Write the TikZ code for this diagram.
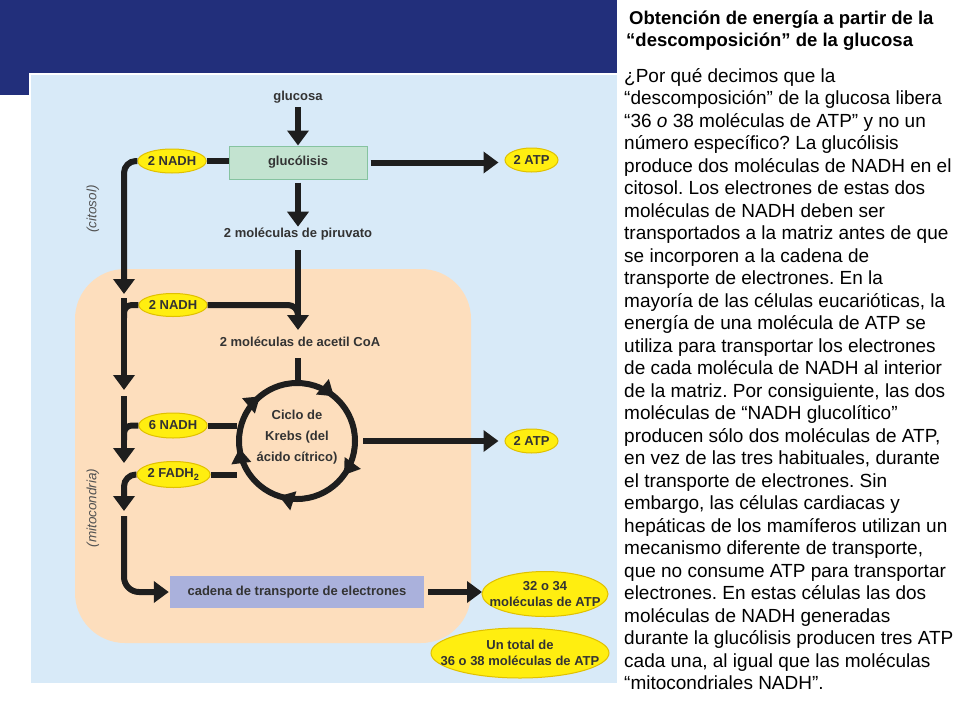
\documentclass[tikz,border=0pt]{standalone}
\usepackage{fontspec}
\setmainfont{Liberation Sans}
\usetikzlibrary{arrows.meta,shapes.geometric,decorations.markings}
\definecolor{navy}{HTML}{222F7B}
\definecolor{diagbg}{HTML}{D8EAF8}
\definecolor{peach}{HTML}{FDDEBD}
\definecolor{nadhfill}{HTML}{FFEE10}
\definecolor{nadhdraw}{HTML}{E0C000}
\definecolor{glucfill}{HTML}{C3E3D0}
\definecolor{glucdraw}{HTML}{86C3A0}
\definecolor{cadfill}{HTML}{AAB1DC}
\definecolor{ink}{HTML}{1E1E1E}
\definecolor{lbl}{HTML}{333333}
\frenchspacing
\newcommand{\cycarrow}{\arrow{Triangle[width=19pt,length=15pt]}}
\begin{document}
\begin{tikzpicture}[x=1pt,y=-1pt,
  flow/.style={draw=ink, line width=6pt},
  arr/.style={flow, -{Triangle[width=21pt,length=15pt]}},
  lab/.style={font=\fontsize{13}{15}\selectfont\bfseries, text=lbl, inner sep=1pt},
  oval/.style={ellipse, fill=nadhfill, draw=nadhdraw, line width=1pt, inner sep=0pt,
    font=\fontsize{13}{16}\selectfont\bfseries, text=lbl, align=center},
  side/.style={font=\fontsize{13.5}{15}\selectfont\itshape, text=lbl!85, rotate=90, inner sep=0pt},
  body/.style={anchor=base west, inner sep=0pt, font=\fontsize{19}{22.5}\selectfont, text=black},
  ttl/.style={anchor=base west, inner sep=0pt, font=\fontsize{18.5}{22}\selectfont\bfseries, text=black},
]
\useasboundingbox (0,0) rectangle (960,720);
\fill[white] (0,0) rectangle (960,720);
\fill[navy] (0,0) rectangle (617,73);
\fill[navy] (0,0) rectangle (29,95);
\fill[diagbg] (31,75) rectangle (617,683);
\fill[peach, rounded corners=50] (75,269) rectangle (471,643);

% nodes
\node[lab] (glucosa) at (298,97) {glucosa};
\node[lab, fill=glucfill, draw=glucdraw, line width=1pt, minimum width=138, minimum height=33] (gluc) at (298,162.5) {glucólisis};
\node[lab] (piru) at (298,234) {2 moléculas de piruvato};
\node[lab] (acet) at (300,342) {2 moléculas de acetil CoA};
\node[oval, minimum width=68, minimum height=24] (nadhA) at (172,161) {2 NADH};
\node[oval, minimum width=53, minimum height=24] (atpA) at (531.5,160) {2 ATP};
\node[oval, minimum width=68, minimum height=23] (nadhB) at (173,305) {2 NADH};
\node[oval, minimum width=68, minimum height=25] (nadhC) at (173,425.5) {6 NADH};
\node[oval, minimum width=73, minimum height=26] (fadh) at (173.5,474.5) {2 FADH\textsubscript{2}};
\node[oval, minimum width=53, minimum height=24] (atpB) at (531.5,441) {2 ATP};
\node[lab, fill=cadfill, minimum width=254, minimum height=32] (cad) at (297,592) {cadena de transporte de electrones};
\node[oval, inner xsep=-30pt, minimum width=126, minimum height=45] (atpC) at (545,594) {32 o 34\\moléculas de ATP};
\node[oval, inner xsep=-30pt, minimum width=178, minimum height=50] (atpT) at (520,653) {Un total de\\36 o 38 moléculas de ATP};
\node[lab, align=center, font=\fontsize{13}{21}\selectfont\bfseries] (krebs) at (297,437) {Ciclo de\\Krebs (del\\ácido cítrico)};
\node[side] (cit) at (93,209) {(citosol)};
\node[side] (mito) at (93,508) {(mitocondria)};

\coordinate (kc) at (297,441);
\coordinate (mainA) at (298,107);
\coordinate (mainB) at (298,250);
\coordinate (mainTip) at (298,330);
\coordinate (mainJoin) at (298,322);
\coordinate (acetTop) at (298,358);
\coordinate (kTop) at (298,384);
\coordinate (tip1) at (124,294);
\coordinate (s2) at (124,298);
\coordinate (tip2) at (124,390);
\coordinate (j2) at (124,318);
\coordinate (s3) at (124,396);
\coordinate (tip3) at (124,463);
\coordinate (j3) at (124,440);
\coordinate (tip4) at (124,511);
\coordinate (s5) at (124,516);
\coordinate (kL1) at (237,425.5);
\coordinate (kL2) at (237,474.5);
\coordinate (kR) at (363,441);
\coordinate (cadTip) at (482,592);

% circle
\draw[flow, postaction={decorate}, decoration={markings,
  mark=at position 0.11 with {\cycarrow},
  mark=at position 0.35 with {\cycarrow},
  mark=at position 0.55 with {\cycarrow},
  mark=at position 0.73 with {\cycarrow},
  mark=at position 0.89 with {\cycarrow}}]
  (kc) ++(0,-58) arc[start angle=-90, end angle=270, radius=58];

% connectors
\draw[arr] (mainA) -- (gluc.north);
\draw[arr, shorten <=3pt] (gluc.south) -- (piru.north);
\draw[arr] (mainB) -- (mainTip);
\draw[flow] (acetTop) -- (kTop);
\draw[flow] (nadhA.east) -- (nadhA.east -| gluc.west);
\draw[arr, shorten <=3pt, shorten >=6pt] (gluc.east) -- (gluc.east -| atpA.west);
\draw[arr, rounded corners=12] (nadhA.west) -| (tip1);
\draw[flow, rounded corners=10] (nadhB.east) -| (mainJoin);
\draw[arr] (s2) -- (tip2);
\draw[flow, rounded corners=8] (nadhB.west) -| (j2);
\draw[arr] (s3) -- (tip3);
\draw[flow, rounded corners=8] (nadhC.west) -| (j3);
\draw[flow] (nadhC.east) -- (kL1);
\draw[flow] (fadh.east) -- (kL2);
\draw[arr, rounded corners=12] (fadh.west) -| (tip4);
\draw[arr, rounded corners=15, shorten >=1pt] (s5) |- (cad.west);
\draw[arr, shorten >=6pt] (kR) -- (atpB.west);
\draw[arr, shorten <=4pt] (cad.east) -- (cadTip);

% right column text
\node[ttl] (t1) at (629,24) {Obtención de energía a partir de la};
\node[ttl] (t2) at (626,46) {“descomposición” de la glucosa};
\foreach \t [count=\i] in {
 {¿Por qué decimos que la},
 {“descomposición” de la glucosa libera},
 {“36 \textit{o} 38 moléculas de ATP” y no un},
 {número específico? La glucólisis},
 {produce dos moléculas de NADH en el},
 {citosol. Los electrones de estas dos},
 {moléculas de NADH deben ser},
 {transportados a la matriz antes de que},
 {se incorporen a la cadena de},
 {transporte de electrones. En la},
 {mayoría de las células eucarióticas, la},
 {energía de una molécula de ATP se},
 {utiliza para transportar los electrones},
 {de cada molécula de NADH al interior},
 {de la matriz. Por consiguiente, las dos},
 {moléculas de “NADH glucolítico”},
 {producen sólo dos moléculas de ATP,},
 {en vez de las tres habituales, durante},
 {el transporte de electrones. Sin},
 {embargo, las células cardiacas y},
 {hepáticas de los mamíferos utilizan un},
 {mecanismo diferente de transporte,},
 {que no consume ATP para transportar},
 {electrones. En estas células las dos},
 {moléculas de NADH generadas},
 {durante la glucólisis producen tres ATP},
 {cada una, al igual que las moléculas},
 {“mitocondriales NADH”.}}
 {\node[body] (b\i) at (624,{82+(\i-1)*22.5}) {\t};}
\end{tikzpicture}
\end{document}
